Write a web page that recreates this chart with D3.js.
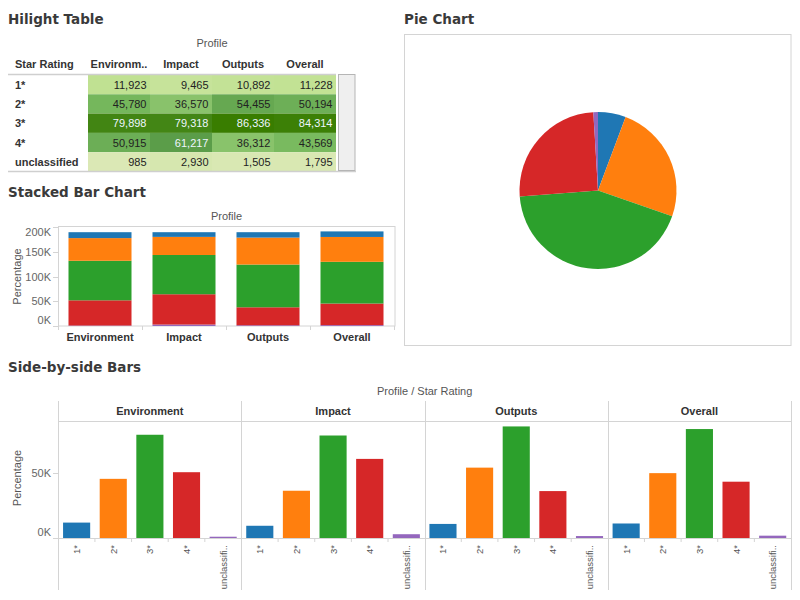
<!DOCTYPE html>
<html>
<head>
<meta charset="utf-8">
<script src="https://cdn.jsdelivr.net/npm/d3@7"></script>
<style>
  html, body { margin: 0; padding: 0; background: #fff; }
  svg { display: block; }
</style>
</head>
<body>
<svg id="chart" width="800" height="600"></svg>
<script>
// ---------- DATA ----------
const profiles = ["Environment", "Impact", "Outputs", "Overall"];
const ratings = ["1*", "2*", "3*", "4*", "unclassified"];
const environment = [11923, 45780, 79898, 50915, 985];
const impact = [9465, 36570, 79318, 61217, 2930];
const outputs = [10892, 54455, 86336, 36312, 1505];
const overall = [11228, 50194, 84314, 43569, 1795];
const stackTicks = [0, 50000, 100000, 150000, 200000];
const sideTicks = [0, 50000];

// ---------- STYLE ----------
const ratingColors = ["#1f77b4", "#ff7f0e", "#2ca02c", "#d62728", "#9467bd"];
const gridGray = "#d4d4d4";
const titleFont = "'DejaVu Sans', sans-serif";
const bodyFont = "'Liberation Sans', Arial, sans-serif";

const seriesByProfile = [environment, impact, outputs, overall];
const table = [];
profiles.forEach((p, pi) => ratings.forEach((r, ri) => table.push({ profile: p, rating: r, value: seriesByProfile[pi][ri] })));

const color = d3.scaleOrdinal(ratings, ratingColors);
const fmtK = d => (d / 1000) + "K";
const fmtNum = d3.format(",");
const trunc = (s, n) => s.length > n ? s.slice(0, n) + ".." : s;

const svg = d3.select("#chart");
svg.append("rect").attr("width", 800).attr("height", 600).attr("fill", "#fff");

function title(x, y, t) {
  svg.append("text").attr("x", x).attr("y", y).text(t)
    .attr("font-family", titleFont).attr("font-weight", "bold")
    .attr("font-size", 13.5).attr("fill", "#3a3a3a");
}
title(8, 24, "Hilight Table");
title(404, 24, "Pie Chart");
title(8, 197, "Stacked Bar Chart");
title(8, 372, "Side-by-side Bars");

// ---------- HILIGHT TABLE ----------
{
  const g = svg.append("g");
  const colX = d3.scaleBand(profiles, [88, 336]);
  const rowY = d3.scaleBand(ratings, [75, 171.5]);
  const heat = d3.scaleLinear([0, 12000, 45000, 62000, 86336],
    ["#dde9b8", "#c0e192", "#76b85d", "#5a9c48", "#397d00"]);

  g.append("text").attr("x", (88 + 336) / 2).attr("y", 47).attr("text-anchor", "middle")
    .attr("font-family", bodyFont).attr("font-size", 11).attr("fill", "#555").text("Profile");
  g.append("text").attr("x", 15).attr("y", 68)
    .attr("font-family", bodyFont).attr("font-size", 11).attr("font-weight", "bold").attr("fill", "#333").text("Star Rating");
  g.selectAll("text.colh").data(profiles).join("text").attr("class", "colh")
    .attr("x", d => colX(d) + colX.bandwidth() / 2).attr("y", 68).attr("text-anchor", "middle")
    .attr("font-family", bodyFont).attr("font-size", 11).attr("font-weight", "bold").attr("fill", "#333")
    .text(d => trunc(d, 8));

  g.selectAll("rect.cell").data(table).join("rect").attr("class", "cell")
    .attr("x", d => colX(d.profile)).attr("y", d => rowY(d.rating))
    .attr("width", colX.bandwidth()).attr("height", rowY.bandwidth())
    .attr("fill", d => heat(d.value));
  g.selectAll("text.val").data(table).join("text").attr("class", "val")
    .attr("x", d => colX(d.profile) + colX.bandwidth() - 3.5)
    .attr("y", d => rowY(d.rating) + rowY.bandwidth() / 2 + 4)
    .attr("text-anchor", "end").attr("font-family", bodyFont).attr("font-size", 11)
    .attr("fill", d => d.value > 60000 ? "#eef6ff" : "#222")
    .text(d => fmtNum(d.value));
  g.selectAll("text.rowh").data(ratings).join("text").attr("class", "rowh")
    .attr("x", 15).attr("y", d => rowY(d) + rowY.bandwidth() / 2 + 4)
    .attr("font-family", bodyFont).attr("font-size", 11).attr("font-weight", "bold").attr("fill", "#333")
    .text(d => d);

  g.append("line").attr("x1", 8).attr("x2", 336).attr("y1", 74.5).attr("y2", 74.5)
    .attr("stroke", "#cfcfcf").attr("stroke-width", 1.5);
  g.append("line").attr("x1", 8).attr("x2", 356).attr("y1", 171.5).attr("y2", 171.5)
    .attr("stroke", "#cfcfcf").attr("stroke-width", 1.5);
  // scrollbar
  g.append("rect").attr("x", 338.5).attr("y", 74.5).attr("width", 16.5).attr("height", 96)
    .attr("fill", "#efefef").attr("stroke", "#b5b5b5");
}

// ---------- PIE ----------
{
  svg.append("rect").attr("x", 404.5).attr("y", 34.5).attr("width", 386.5).attr("height", 311)
    .attr("fill", "#fff").attr("stroke", gridGray);
  const totals = ratings.map((r, i) => d3.sum(seriesByProfile, s => s[i]));
  const pie = d3.pie().sort(null).value(d => d.v);
  const arc = d3.arc().innerRadius(0).outerRadius(78.5);
  svg.append("g").attr("transform", "translate(598,190.5)")
    .selectAll("path").data(pie(ratings.map((r, i) => ({ r, v: totals[i] })))).join("path")
    .attr("d", arc).attr("fill", d => color(d.data.r));
}

// ---------- STACKED BAR ----------
{
  const g = svg.append("g");
  const x = d3.scaleBand(profiles, [58, 394]).paddingInner(0.25).paddingOuter(0.125);
  const y = d3.scaleLinear([0, 200000], [326, 227]);
  const stackOrder = ["unclassified", "4*", "3*", "2*", "1*"];
  const rows = profiles.map((p, pi) => {
    const o = { profile: p };
    ratings.forEach((r, ri) => o[r] = seriesByProfile[pi][ri]);
    return o;
  });
  const series = d3.stack().keys(stackOrder)(rows);

  g.append("rect").attr("x", 58.5).attr("y", 226.5).attr("width", 336.5).attr("height", 99.5)
    .attr("fill", "none").attr("stroke", gridGray);
  g.append("text").attr("x", (58 + 395) / 2).attr("y", 220).attr("text-anchor", "middle")
    .attr("font-family", bodyFont).attr("font-size", 11).attr("fill", "#555").text("Profile");

  g.selectAll("g.s").data(series).join("g").attr("class", "s").attr("fill", d => color(d.key))
    .selectAll("rect").data(d => d).join("rect")
    .attr("x", d => x(d.data.profile)).attr("width", x.bandwidth())
    .attr("y", d => y(d[1])).attr("height", d => y(d[0]) - y(d[1]));

  // y axis
  g.selectAll("line.yt").data(stackTicks).join("line").attr("class", "yt")
    .attr("x1", 53).attr("x2", 58).attr("y1", d => Math.round(y(d)) + 0.5).attr("y2", d => Math.round(y(d)) + 0.5)
    .attr("stroke", gridGray);
  g.selectAll("text.yl").data(stackTicks).join("text").attr("class", "yl")
    .attr("x", 51).attr("y", d => Math.min(Math.max(y(d), 232), 320) + 4)
    .attr("text-anchor", "end").attr("font-family", bodyFont).attr("font-size", 11).attr("fill", "#666")
    .text(fmtK);
  g.append("text").attr("transform", "translate(21,276.5) rotate(-90)").attr("text-anchor", "middle")
    .attr("font-family", bodyFont).attr("font-size", 11).attr("fill", "#555").text("Percentage");

  // x axis
  g.selectAll("line.xt").data(d3.range(profiles.length + 1)).join("line").attr("class", "xt")
    .attr("x1", i => 58.5 + i * x.step()).attr("x2", i => 58.5 + i * x.step())
    .attr("y1", 326).attr("y2", 330).attr("stroke", gridGray);
  g.selectAll("text.xl").data(profiles).join("text").attr("class", "xl")
    .attr("x", d => x(d) + x.bandwidth() / 2).attr("y", 341).attr("text-anchor", "middle")
    .attr("font-family", bodyFont).attr("font-size", 11).attr("font-weight", "bold").attr("fill", "#333")
    .text(d => d);
}

// ---------- SIDE-BY-SIDE ----------
{
  const g = svg.append("g");
  const fx = d3.scaleBand(profiles, [58.3, 791]);
  const x = d3.scaleBand(ratings, [0, fx.bandwidth()]).paddingInner(0.26).paddingOuter(0.13);
  const y = d3.scaleLinear([0, 90000], [538, 421.7]);

  g.append("text").attr("x", (58.3 + 791) / 2).attr("y", 395).attr("text-anchor", "middle")
    .attr("font-family", bodyFont).attr("font-size", 11).attr("fill", "#555").text("Profile  /  Star Rating");

  // frame lines
  g.append("line").attr("x1", 58.5).attr("x2", 791).attr("y1", 421.5).attr("y2", 421.5).attr("stroke", gridGray);
  g.append("line").attr("x1", 53).attr("x2", 791).attr("y1", 538.5).attr("y2", 538.5).attr("stroke", gridGray);
  g.selectAll("line.fv").data(d3.range(profiles.length + 1)).join("line").attr("class", "fv")
    .attr("x1", i => Math.round(58.3 + i * fx.step()) + 0.5).attr("x2", i => Math.round(58.3 + i * fx.step()) + 0.5)
    .attr("y1", 401).attr("y2", 590).attr("stroke", gridGray);

  const facets = g.selectAll("g.f").data(profiles).join("g").attr("class", "f")
    .attr("transform", d => `translate(${fx(d)},0)`);
  facets.append("text").attr("x", fx.bandwidth() / 2).attr("y", 415).attr("text-anchor", "middle")
    .attr("font-family", bodyFont).attr("font-size", 11).attr("font-weight", "bold").attr("fill", "#333")
    .text(d => d);
  facets.selectAll("rect").data(d => ratings.map((r, ri) => ({ r, v: seriesByProfile[profiles.indexOf(d)][ri] })))
    .join("rect")
    .attr("x", d => x(d.r)).attr("width", x.bandwidth())
    .attr("y", d => y(d.v)).attr("height", d => y(0) - y(d.v))
    .attr("fill", d => color(d.r));
  facets.selectAll("line.xt").data(d3.range(1, ratings.length)).join("line").attr("class", "xt")
    .attr("x1", i => i * x.step()).attr("x2", i => i * x.step())
    .attr("y1", 538).attr("y2", 542).attr("stroke", gridGray);
  facets.selectAll("text.xl").data(ratings).join("text").attr("class", "xl")
    .attr("transform", d => `translate(${x(d) + x.bandwidth() / 2 + 3.5},545) rotate(-90)`)
    .attr("text-anchor", "end").attr("font-family", bodyFont).attr("font-size", 9.5).attr("fill", "#555")
    .text(d => trunc(d, 10));

  // y axis
  g.selectAll("line.yt").data(sideTicks).join("line").attr("class", "yt")
    .attr("x1", 53).attr("x2", 58).attr("y1", d => Math.round(y(d)) + 0.5).attr("y2", d => Math.round(y(d)) + 0.5)
    .attr("stroke", gridGray);
  g.selectAll("text.yl").data(sideTicks).join("text").attr("class", "yl")
    .attr("x", 51).attr("y", d => Math.min(y(d), 532) + 4)
    .attr("text-anchor", "end").attr("font-family", bodyFont).attr("font-size", 11).attr("fill", "#666")
    .text(fmtK);
  g.append("text").attr("transform", "translate(21,478) rotate(-90)").attr("text-anchor", "middle")
    .attr("font-family", bodyFont).attr("font-size", 11).attr("fill", "#555").text("Percentage");
}
</script>
</body>
</html>
